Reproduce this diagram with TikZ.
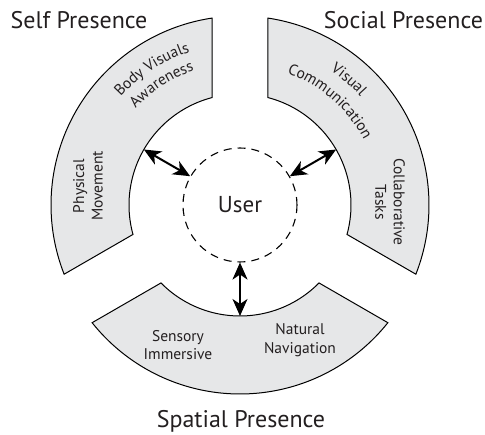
\documentclass[tikz,border=0pt]{standalone}
\usepackage{fontspec}
\setmainfont{PT Sans}
\usetikzlibrary{arrows.meta,decorations.text}
\definecolor{txt}{HTML}{231F20}
\definecolor{sect}{HTML}{E6E7E8}
\newcommand\labfont{\fontsize{15.5}{18.5}\selectfont}
\begin{document}
\begin{tikzpicture}[
  sector/.style={fill=sect, draw=black, line width=1pt, line join=miter},
  dbl/.style={{Stealth[length=17pt,width=15pt,inset=5pt]}-{Stealth[length=17pt,width=15pt,inset=5pt]}, line width=2pt},
  title/.style={font=\fontsize{24}{28}\selectfont, text=txt, anchor=base},
  lab/.style={font=\labfont, text=txt, align=center},
  curved/.style={decorate, decoration={text along path, text align=center, text color=txt, text={|\labfont|#1}}},
]
\useasboundingbox (-240pt,-230pt) rectangle (245pt,205pt);
\pgfmathsetmacro\ao{asin(28/189)}
\pgfmathsetmacro\ai{asin(28/111)}
\foreach \c in {150,30,270}{
  \draw[sector] ({\c-60+\ao}:189pt) arc[start angle={\c-60+\ao}, end angle={\c+60-\ao}, radius=189pt]
    -- ({\c+60-\ai}:111pt) arc[start angle={\c+60-\ai}, end angle={\c-60+\ai}, radius=111pt] -- cycle;
}
\node[circle, draw=black, line width=1.1pt, dash pattern=on 8pt off 6pt, minimum size=114pt, inner sep=0pt,
  font=\fontsize{23}{26}\selectfont, text=txt] (user) at (0pt,0pt) {User};
\coordinate (s1) at (150:111pt);
\coordinate (s2) at (30:111pt);
\coordinate (s3) at (270:111pt);
\draw[dbl] (user.150) -- (s1);
\draw[dbl] (user.30) -- (s2);
\draw[dbl] (user.270) -- (s3);
% titles
\node[title] (t1) at (-161pt,176.5pt) {Self Presence};
\node[title] (t2) at (163.5pt,176.5pt) {Social Presence};
\node[title] (t3) at (1pt,-223pt) {Spatial Presence};
% curved labels
\path[curved={Body Visuals}] (148:161pt) arc[start angle=148, end angle=98, radius=161pt];
\path[curved={Awareness}] (148:142pt) arc[start angle=148, end angle=98, radius=142pt];
\path[curved={Visual}] (75:162pt) arc[start angle=75, end angle=23, radius=162pt];
\path[curved={Communication}] (75:140pt) arc[start angle=75, end angle=23, radius=140pt];
% straight labels
\node[lab, rotate=90] (pm) at (-152pt,19pt) {Physical\\Movement};
\node[lab, rotate=-90] (ct) at (150pt,3pt) {Collaborative\\Tasks};
\node[lab] (si) at (-62pt,-140pt) {Sensory\\Immersive};
\node[lab] (nn) at (60pt,-135pt) {Natural\\Navigation};
\end{tikzpicture}
\end{document}
